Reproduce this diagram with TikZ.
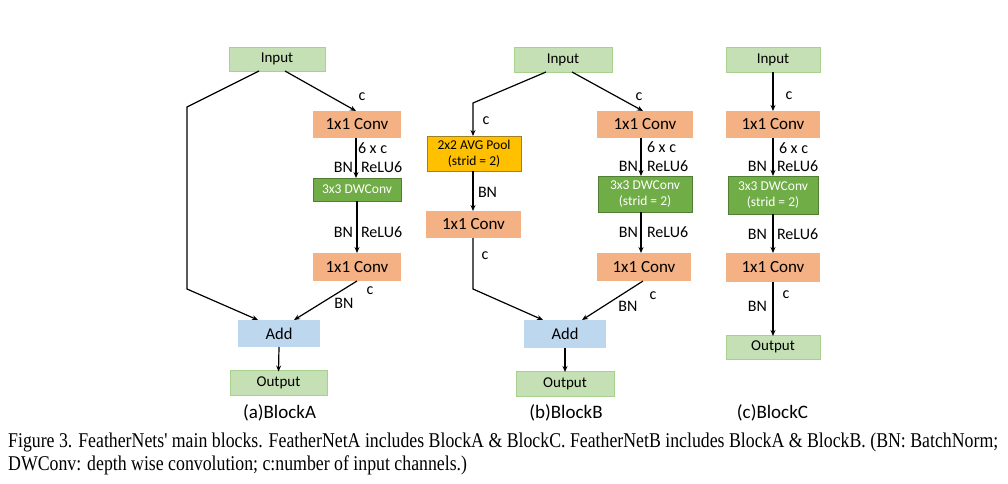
\documentclass[tikz,border=0pt]{standalone}
\usepackage{fontspec}
\usepackage{graphicx}
\setmainfont{Carlito}
\newfontfamily\capfont{Liberation Serif}
\usetikzlibrary{arrows.meta}

\definecolor{iofill}{HTML}{C5E0B4}
\definecolor{ioline}{HTML}{A9D18E}
\definecolor{convfill}{HTML}{F4B183}
\definecolor{dwfill}{HTML}{70AD47}
\definecolor{dwline}{HTML}{507E32}
\definecolor{poolfill}{HTML}{FFC000}
\definecolor{poolline}{HTML}{A08020}
\definecolor{addfill}{HTML}{BDD7EE}

\newsavebox\caplineone
\newsavebox\caplinetwo

\begin{document}
\sbox\caplineone{\capfont\fontsize{21}{25}\selectfont Figure 3. FeatherNets' main blocks. FeatherNetA includes BlockA \& BlockC. FeatherNetB includes BlockA \& BlockB. (BN: BatchNorm;}
\sbox\caplinetwo{\capfont\fontsize{21}{25}\selectfont DWConv: depth wise convolution; c:number of input channels.)}
\begin{tikzpicture}[x=1pt,y=-1pt,
  box/.style={rectangle, inner sep=0pt, outer sep=0pt, anchor=center},
  wh/.style 2 args={minimum width=#1pt, minimum height=#2pt},
  io/.style={box, fill=iofill, draw=ioline, line width=0.9pt, font=\fontsize{15}{18}\selectfont},
  conv/.style={box, fill=convfill, font=\fontsize{17}{20}\selectfont},
  dw/.style={box, fill=dwfill, draw=dwline, line width=0.9pt, text=white, align=center, font=\fontsize{13.5}{16.5}\selectfont},
  pool/.style={box, fill=poolfill, draw=poolline, line width=0.9pt, align=center, font=\fontsize{13.5}{16.5}\selectfont},
  addbox/.style={box, fill=addfill, font=\fontsize{16.5}{19}\selectfont},
  lbl/.style={inner sep=0pt, outer sep=0pt, font=\fontsize{16}{19}\selectfont},
  title/.style={inner sep=0pt, outer sep=0pt, font=\fontsize{19}{22}\selectfont},
  line/.style={line width=1.2pt, black},
  arr/.style={line, -{Stealth[length=6pt,width=5pt]}},
]
\useasboundingbox (0,0) rectangle (1008,483);
\fill[white] (0,0) rectangle (1008,483);

% ---------- Block A ----------
\node[io,wh={96}{24}]     (inA)  at (277,59)    {Input};
\node[conv,wh={88}{27}]   (c1A)  at (357,124.5) {1x1 Conv};
\node[dw,wh={88}{23}]     (dwA)  at (357,189.5) {3x3 DWConv};
\node[conv,wh={88}{28}]   (c2A)  at (357,267)   {1x1 Conv};
\node[addbox,wh={82}{27}] (addA) at (279,333.5) {Add};
\node[io,wh={97}{25}]     (outA) at (278.5,383) {Output};
\coordinate (bA1) at (187,107);
\coordinate (bA2) at (187,289);

\draw[arr] ([xshift=-18pt]inA.south) -- (bA1) -- (bA2) -- ([xshift=-21pt]addA.north);
\draw[arr] ([xshift=8pt]inA.south) -- ([xshift=-1pt]c1A.north);
\draw[arr] ([xshift=-1pt]c1A.south) -- ([xshift=-1pt]dwA.north);
\draw[arr] (dwA.south) -- (c2A.north);
\draw[arr] (c2A.south) -- ([xshift=15pt]addA.north);
\draw[arr] (addA.south) -- ([yshift=-1pt]outA.north);

\node[lbl] (lA1) at (362,97) {c};
\node[lbl,anchor=west] (lA2) at (358,148) {6 x c};
\node[lbl,anchor=east] (lA3) at (353,167) {BN};
\node[lbl,anchor=west] (lA4) at (361,167) {ReLU6};
\node[lbl,anchor=east] (lA5) at (353,232) {BN};
\node[lbl,anchor=west] (lA6) at (361,232) {ReLU6};
\node[lbl] (lA7) at (370,291) {c};
\node[lbl] (lA8) at (344,303) {BN};
\node[title] (tA) at (279.5,413) {(a)BlockA};

% ---------- Block B ----------
\node[io,wh={98}{25}]     (inB)  at (563,59.5)  {Input};
\node[pool,wh={94}{35}]   (poolB) at (474,153.5) {2x2 AVG Pool\\(strid = 2)};
\node[conv,wh={96}{27}]   (c1B)  at (645,124.5) {1x1 Conv};
\node[dw,wh={94}{36}]     (dwB)  at (645,194)   {3x3 DWConv\\(strid = 2)};
\node[conv,wh={95}{27}]   (c3B)  at (473.5,224.5) {1x1 Conv};
\node[conv,wh={94}{28}]   (c2B)  at (644,267)   {1x1 Conv};
\node[addbox,wh={82}{28}] (addB) at (565,334)   {Add};
\node[io,wh={98}{25}]     (outB) at (565,383.5) {Output};
\coordinate (bB1) at (473,103);
\coordinate (bB2) at (473,289);

\draw[arr] ([xshift=-17pt]inB.south) -- (bB1) -- (poolB.north -| bB1);
\draw[arr] ([xshift=9pt]inB.south) -- ([xshift=-2pt]c1B.north);
\draw[arr] ([xshift=-4pt]c1B.south) -- ([xshift=-4pt]dwB.north);
\draw[arr] ([xshift=-4pt]dwB.south) -- ([xshift=-3pt]c2B.north);
\draw[arr] (poolB.south -| bB1) -- (c3B.north -| bB1);
\draw[arr] (c3B.south -| bB2) -- (bB2) -- ([xshift=-22pt]addB.north);
\draw[arr] ([xshift=-1pt]c2B.south) -- ([xshift=17pt]addB.north);
\draw[arr] (addB.south) -- ([yshift=-1pt]outB.north);

\node[lbl] (lB1) at (486,121) {c};
\node[lbl] (lB2) at (639,97) {c};
\node[lbl,anchor=west] (lB3) at (478,192) {BN};
\node[lbl,anchor=west] (lB4) at (647,147) {6 x c};
\node[lbl,anchor=east] (lB5) at (638,166) {BN};
\node[lbl,anchor=west] (lB6) at (647,166) {ReLU6};
\node[lbl,anchor=east] (lB7) at (638,232) {BN};
\node[lbl,anchor=west] (lB8) at (647,232) {ReLU6};
\node[lbl] (lB9) at (485,256) {c};
\node[lbl] (lB10) at (653,296) {c};
\node[lbl] (lB11) at (628,306) {BN};
\node[title] (tB) at (566,413) {(b)BlockB};

% ---------- Block C ----------
\node[io,wh={94}{25}]   (inC)  at (773,59.5)  {Input};
\node[conv,wh={94}{27}] (c1C)  at (773,124.5) {1x1 Conv};
\node[dw,wh={90}{38}]   (dwC)  at (773,195)   {3x3 DWConv\\(strid = 2)};
\node[conv,wh={94}{29}] (c2C)  at (773,267.5) {1x1 Conv};
\node[io,wh={94}{24}]   (outC) at (773,347)   {Output};

\draw[arr] (inC.south) -- (c1C.north);
\draw[arr] (c1C.south) -- (dwC.north);
\draw[arr] (dwC.south) -- (c2C.north);
\draw[arr] (c2C.south) -- ([yshift=-1pt]outC.north);

\node[lbl] (lC1) at (789,96) {c};
\node[lbl,anchor=west] (lC2) at (779,148) {6 x c};
\node[lbl,anchor=east] (lC3) at (767,166) {BN};
\node[lbl,anchor=west] (lC4) at (777,166) {ReLU6};
\node[lbl,anchor=east] (lC5) at (767,234) {BN};
\node[lbl,anchor=west] (lC6) at (777,234) {ReLU6};
\node[lbl,anchor=east] (lC7) at (767,306) {BN};
\node[lbl] (lC8) at (786,295) {c};
\node[title] (tC) at (772.5,413) {(c)BlockC};

% ---------- Caption ----------
\pgfmathsetmacro\capscale{990/\wd\caplineone}
\node[inner sep=0pt, anchor=base west] (cap1) at (8,447) {\scalebox{\capscale}[1]{\usebox\caplineone}};
\node[inner sep=0pt, anchor=base west] (cap2) at (8,470) {\scalebox{\capscale}[1]{\usebox\caplinetwo}};
\end{tikzpicture}
\end{document}
